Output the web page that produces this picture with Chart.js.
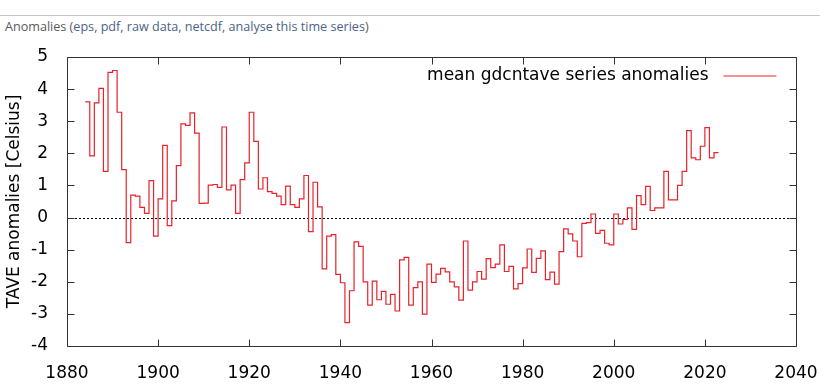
<!DOCTYPE html>
<html>
<head>
<meta charset="utf-8">
<script src="https://cdn.jsdelivr.net/npm/chart.js@4.4.1/dist/chart.umd.min.js"></script>
<style>
  html, body { margin: 0; padding: 0; background: #fff; }
  #wrap { position: relative; width: 827px; height: 386px; overflow: hidden; }
  #rule { position: absolute; left: 0; top: 15px; width: 820px; height: 1px; background: #c4c4c4; }
  #caption { position: absolute; left: 5px; top: 18px; font: 12.6px "Open Sans", sans-serif; color: #5a5a5a; white-space: nowrap; }
  #caption a { color: #4a6386; text-decoration: none; }
  #chart { position: absolute; left: 0; top: 0; }
</style>
</head>
<body>
<div id="wrap">
  <div id="rule"></div>
  <div id="caption">Anomalies (<a>eps</a>, <a>pdf</a>, <a>raw data</a>, <a>netcdf</a>, <a>analyse this time series</a>)</div>
  <canvas id="chart" width="827" height="386"></canvas>
</div>
<script>
// yearly anomalies, first value is for 1884, each one holds for a whole year
const firstYear = 1884;
const anomalies = [
  3.60, 1.92, 3.57, 4.02, 1.44, 4.52, 4.58, 3.28, 1.49, -0.78,      // 1884-1893
  0.70, 0.67, 0.32, 0.13, 1.15, -0.58, 0.58, 2.25, -0.25, 0.52,     // 1894-1903
  1.62, 2.92, 2.87, 3.26, 2.63, 0.44, 0.45, 1.01, 1.03, 0.94,       // 1904-1913
  2.82, 0.86, 1.01, 0.13, 1.18, 1.70, 3.28, 2.37, 0.89, 1.24,       // 1914-1923
  0.81, 0.75, 0.67, 0.40, 0.98, 0.40, 0.32, 0.58, 1.31, -0.44,      // 1924-1933
  1.10, 0.33, -1.60, -0.58, -0.53, -1.77, -2.03, -3.27, -2.28, -0.76, // 1934-1943
  -0.90, -2.00, -2.73, -1.98, -2.56, -2.30, -2.70, -2.39, -2.91, -1.32, // 1944-1953
  -1.24, -2.73, -2.18, -2.00, -3.01, -1.45, -2.02, -1.76, -1.58, -1.69, // 1954-1963
  -2.00, -2.16, -2.57, -0.73, -2.26, -2.00, -1.68, -1.92, -1.28, -1.56, // 1964-1973
  -1.45, -0.85, -1.68, -1.52, -2.22, -2.06, -1.57, -0.98, -1.71, -1.27, // 1974-1983
  -1.04, -1.93, -1.70, -2.07, -1.06, -0.35, -0.51, -0.73, -1.22, -0.18, // 1984-1993
  -0.16, 0.11, -0.49, -0.40, -0.80, -0.85, 0.11, -0.20, -0.06, 0.30,  // 1994-2003
  -0.37, 0.68, 0.40, 0.97, 0.22, 0.30, 0.30, 1.44, 0.55, 0.55,      // 2004-2013
  1.00, 1.44, 2.71, 1.86, 1.80, 2.22, 2.80, 1.86, 2.02              // 2014-2022
];
const seriesName = "mean gdcntave series anomalies";
const yTitle = "TAVE anomalies [Celsius]";
const xMin = 1880, xMax = 2040, xStep = 20;
const yMin = -4, yMax = 5, yStep = 1;

const lineColor = "#e8222a";
const inkColor = "#333";
const fontFamily = "'DejaVu Sans', sans-serif";

// points at the start of each year; one extra point closes the last step
const points = anomalies.map((v, i) => ({ x: firstYear + i, y: v }));
points.push({ x: firstYear + anomalies.length, y: anomalies[anomalies.length - 1] });

// gnuplot style frame: border, inward ticks on all sides, dotted zero axis, legend inside
const frame = {
  id: 'frame',
  beforeDatasetsDraw(chart) {
    const ctx = chart.ctx, a = chart.chartArea;
    const y0 = Math.round(chart.scales.y.getPixelForValue(0)) + 0.5;
    ctx.save();
    ctx.strokeStyle = "#000";
    ctx.lineWidth = 1;
    ctx.setLineDash([2, 2]);
    ctx.beginPath();
    ctx.moveTo(a.left, y0);
    ctx.lineTo(a.right, y0);
    ctx.stroke();
    ctx.restore();
  },
  afterDatasetsDraw(chart) {
    const ctx = chart.ctx, a = chart.chartArea;
    const xs = chart.scales.x, ys = chart.scales.y;
    const L = Math.round(a.left) + 0.5, R = Math.round(a.right) + 0.5;
    const T = Math.round(a.top) + 0.5, B = Math.round(a.bottom) + 0.5;
    const len = 7;
    ctx.save();
    ctx.strokeStyle = inkColor;
    ctx.lineWidth = 1;
    ctx.beginPath();
    ctx.rect(L, T, R - L, B - T);
    xs.ticks.forEach(t => {
      const px = Math.round(xs.getPixelForValue(t.value)) + 0.5;
      ctx.moveTo(px, B); ctx.lineTo(px, B - len);
      ctx.moveTo(px, T); ctx.lineTo(px, T + len);
    });
    ys.ticks.forEach(t => {
      const py = Math.round(ys.getPixelForValue(t.value)) + 0.5;
      ctx.moveTo(L, py); ctx.lineTo(L + len, py);
      ctx.moveTo(R, py); ctx.lineTo(R - len, py);
    });
    ctx.stroke();

    // legend entry: text then line sample
    const ly = T + 18;
    ctx.font = "17px " + fontFamily;
    ctx.fillStyle = "#000";
    ctx.textAlign = "right";
    ctx.textBaseline = "middle";
    ctx.fillText(seriesName, R - 88, ly);
    ctx.strokeStyle = lineColor;
    ctx.beginPath();
    ctx.moveTo(R - 73, ly + 0.5);
    ctx.lineTo(R - 20, ly + 0.5);
    ctx.stroke();
    ctx.restore();
  }
};

new Chart(document.getElementById("chart"), {
  type: 'line',
  data: {
    datasets: [{
      label: seriesName,
      data: points,
      borderColor: lineColor,
      borderWidth: 1.2,
      pointRadius: 0,
      stepped: true,
      fill: false
    }]
  },
  options: {
    responsive: false,
    animation: false,
    layout: { padding: { top: 57, right: 31, bottom: 0, left: 0 } },
    plugins: { legend: { display: false }, tooltip: { enabled: false } },
    scales: {
      x: {
        type: 'linear',
        min: xMin, max: xMax,
        grid: { display: false },
        border: { display: false },
        ticks: {
          stepSize: xStep,
          padding: 9,
          color: "#000",
          font: { family: fontFamily, size: 17 },
          maxRotation: 0,
          callback: v => String(v)
        },
        afterFit: s => { s.height = 40; }
      },
      y: {
        min: yMin, max: yMax,
        grid: { display: false },
        border: { display: false },
        ticks: {
          stepSize: yStep,
          padding: 11,
          color: "#000",
          font: { family: fontFamily, size: 17 }
        },
        title: {
          display: true,
          text: yTitle,
          color: "#000",
          font: { family: fontFamily, size: 17 },
          padding: { top: 4, bottom: 0 }
        },
        afterFit: s => { s.width = 67; }
      }
    }
  },
  plugins: [frame]
});
</script>
</body>
</html>
